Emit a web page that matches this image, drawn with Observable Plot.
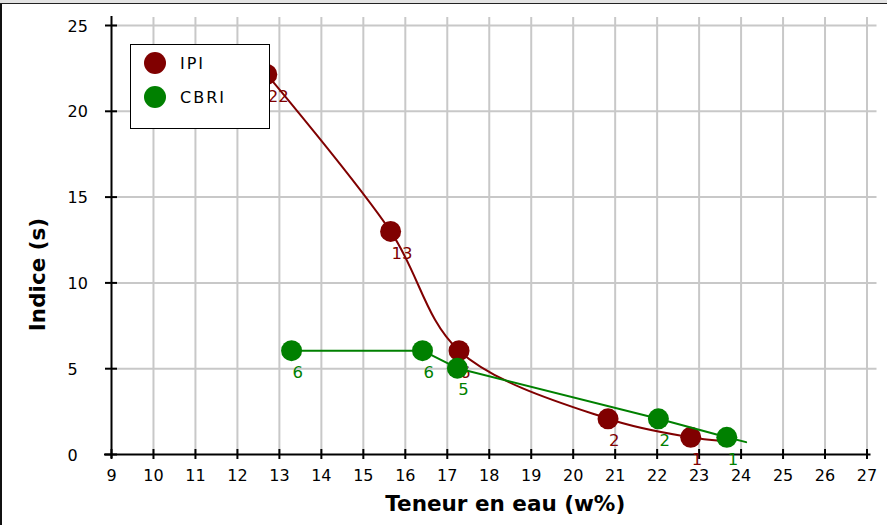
<!DOCTYPE html>
<html><head><meta charset="utf-8">
<script src="https://cdn.jsdelivr.net/npm/d3@7"></script>
<script src="https://cdn.jsdelivr.net/npm/@observablehq/plot@0.6"></script>
<style>
html,body{margin:0;padding:0;background:#fff;}
#wrap{position:relative;width:887px;height:525px;overflow:hidden;background:#fff;}
#chart{position:absolute;left:0;top:0;}
.topband{position:absolute;left:0;top:0;width:887px;height:3px;background:#e3e3e3;border-bottom:1.5px solid #222;}
.leftline{position:absolute;left:0;top:4px;width:2px;height:521px;background:#111;}
#legend{position:absolute;left:130px;top:44px;width:138px;height:83px;border:1px solid #000;background:#fff;font-family:"DejaVu Sans";font-size:16px;letter-spacing:2px;color:#000;}
.item{position:absolute;left:13px;height:22px;display:flex;align-items:center;white-space:nowrap;}
.sw{width:22px;height:22px;border-radius:50%;margin-right:14px;flex:none;}
</style>
</head><body>
<div id="wrap"><div id="chart"></div><div class="topband"></div><div class="leftline"></div><div id="legend"></div></div>
<script>
// Series: IPI
const ipiX = [12.7, 15.65, 17.28, 20.83, 22.8];
const ipiY = [22.15, 13, 6.05, 2.08, 1];
const ipiLabels = ["22", "13", "6", "2", "1"];
const ipiCurveEnd = [23.5, 0.8];
// Series: CBRI
const cbriX = [13.29, 16.41, 17.24, 22.03, 23.66];
const cbriY = [6.05, 6.05, 5.03, 2.08, 1];
const cbriLabels = ["6", "6", "5", "2", "1"];
const cbriLineEnd = [24.12, 0.72];
// Axes
const xTicks = [9,10,11,12,13,14,15,16,17,18,19,20,21,22,23,24,25,26,27];
const yTicks = [0,5,10,15,20,25];
const xGrid = xTicks.slice(1);
const yGrid = yTicks.slice(1);
const seriesNames = ["IPI", "CBRI"];
const seriesColors = ["#800000", "#008000"];
const xTitle = "Teneur en eau (w%)";
const yTitle = "Indice (s)";

const ipi = ipiX.map((x, i) => ({x, y: ipiY[i], label: ipiLabels[i]}));
const cbri = cbriX.map((x, i) => ({x, y: cbriY[i], label: cbriLabels[i]}));
const ipiLine = [...ipi, {x: ipiCurveEnd[0], y: ipiCurveEnd[1]}];
const cbriLine = [...cbri, {x: cbriLineEnd[0], y: cbriLineEnd[1]}];

const grid = "#c8c8c8";
const chart = Plot.plot({
  width: 887, height: 525,
  marginLeft: 111, marginRight: 20.5, marginTop: 25, marginBottom: 71,
  x: {domain: [9, 27], axis: null},
  y: {domain: [0, 25], axis: null},
  style: {fontFamily: "DejaVu Sans", fontSize: "16px", background: "white", color: "black", overflow: "visible"},
  marks: [
    Plot.ruleX(xGrid, {x: d => d, y1: 25, y2: 0, stroke: grid, strokeWidth: 2, insetTop: -8}),
    Plot.ruleY(yGrid, {y: d => d, x1: 9, x2: 27, stroke: grid, strokeWidth: 2, insetRight: -10}),
    Plot.ruleX([9], {x: d => d, y1: 25, y2: 0, stroke: "#000", strokeWidth: 2, insetTop: -9, insetBottom: -4}),
    Plot.ruleY([0], {y: d => d, x1: 9, x2: 27, stroke: "#000", strokeWidth: 2, insetLeft: -7, insetRight: -4}),
    Plot.ruleX(xTicks, {x: d => d, y1: 0, y2: 0, stroke: "#000", strokeWidth: 2, insetTop: -5, insetBottom: -5}),
    Plot.ruleY(yTicks, {y: d => d, x1: 9, x2: 9, stroke: "#000", strokeWidth: 2, insetLeft: -6, insetRight: -6}),
    Plot.text(xTicks, {x: d => d, y: 0, dy: 21, text: d => String(d), fontSize: 16, fill: "#000"}),
    Plot.text(yTicks, {x: 9, y: d => d, dx: -44, dy: 1, textAnchor: "start", text: d => String(d), fontSize: 16, fill: "#000"}),
    Plot.line(ipiLine, {x: "x", y: "y", curve: "catmull-rom", stroke: seriesColors[0], strokeWidth: 2}),
    Plot.dot(ipi, {x: "x", y: "y", r: 10.5, fill: seriesColors[0]}),
    Plot.text(ipi, {x: "x", y: "y", text: "label", dx: 1, dy: 22, textAnchor: "start", fill: seriesColors[0], fontSize: 16.5}),
    Plot.line(cbriLine, {x: "x", y: "y", stroke: seriesColors[1], strokeWidth: 2}),
    Plot.dot(cbri, {x: "x", y: "y", r: 10.5, fill: seriesColors[1]}),
    Plot.text(cbri, {x: "x", y: "y", text: "label", dx: 1, dy: 22, textAnchor: "start", fill: seriesColors[1], fontSize: 16.5}),
    Plot.text([xTitle], {frameAnchor: "bottom", text: d => d, dx: 16, dy: 49.5, textAnchor: "middle", lineAnchor: "middle", fontWeight: "bold", fontSize: 21.5, fill: "#000"}),
    Plot.text([yTitle], {frameAnchor: "left", text: d => d, rotate: -90, dx: -73, dy: 34.5, textAnchor: "middle", lineAnchor: "middle", fontWeight: "bold", fontSize: 21.5, fill: "#000"})
  ]
});
document.getElementById("chart").appendChild(chart);

const legend = document.getElementById("legend");
seriesNames.forEach((name, i) => {
  const item = document.createElement("div");
  item.className = "item";
  item.style.top = (7 + i * 34) + "px";
  const sw = document.createElement("span");
  sw.className = "sw";
  sw.style.background = seriesColors[i];
  const t = document.createElement("span");
  t.textContent = name;
  item.appendChild(sw); item.appendChild(t);
  legend.appendChild(item);
});
</script>
</body></html>
